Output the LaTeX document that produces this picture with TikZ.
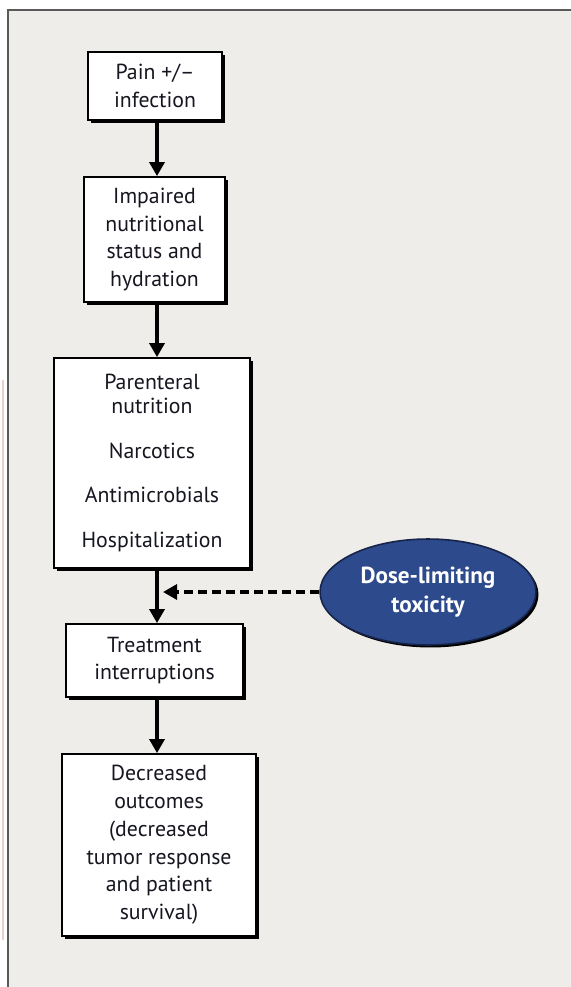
\documentclass[tikz,border=0pt]{standalone}
\usepackage{fontspec}
\setmainfont{PT Sans}
\usetikzlibrary{positioning,shapes.geometric,shadows,arrows.meta}
\definecolor{panel}{HTML}{EFEDE9}
\definecolor{frameline}{HTML}{5A5A5A}
\definecolor{edgepink}{HTML}{E9CFC8}
\definecolor{dosefill}{HTML}{2C4A8C}
\definecolor{doseline}{HTML}{17244A}
\definecolor{boxtext}{HTML}{15161F}

\begin{document}
\begin{tikzpicture}[x=0.02cm, y=-0.02cm,
    stepbox/.style={draw=black, fill=white, line width=1pt, align=center,
        inner sep=0pt, text=boxtext, font=\fontsize{12.4}{15.8}\selectfont,
        drop shadow={shadow xshift=0.06cm, shadow yshift=-0.06cm, fill=black, opacity=1}},
    flow/.style={line width=2.1pt, -{Triangle[width=8.5pt,length=8pt]}}]
    \useasboundingbox (0, 0) rectangle (571, 987);
    \fill[white] (0, 0) rectangle (571, 987);
    \fill[panel] (8, 10) rectangle (571, 987);
    \draw[frameline, line width=1pt] (8, 987) -- (8, 10) -- (571, 10);
    \draw[edgepink, line width=0.6pt] (3, 380) -- (3, 940);

    \node[stepbox, minimum width=2.68cm, minimum height=1.36cm] (pain) at (155, 86)
        {Pain +/--\\infection};
    \node[stepbox, minimum width=2.82cm, minimum height=2.5cm] (nutrition) at (154.5, 239.5)
        {Impaired\\nutritional\\status and\\hydration};
    \node[stepbox, minimum width=3.92cm, minimum height=4.2cm] (support) at (152, 463)
        {Parenteral\\[-2.2pt]nutrition\\[9.7pt]Narcotics\\[9.7pt]Antimicrobials\\[9.7pt]Hospitalization};
    \node[stepbox, minimum width=3.54cm, minimum height=1.46cm] (interrupt) at (154.5, 660.5)
        {Treatment\\interruptions};
    \node[stepbox, minimum width=3.88cm, minimum height=3.64cm] (outcome) at (159, 845)
        {Decreased\\outcomes\\(decreased\\tumor response\\and patient\\survival)};
    \node[ellipse, draw=doseline, fill=dosefill, line width=0.9pt, inner sep=0pt,
        minimum width=4.32cm, minimum height=2.12cm, text=white, align=center,
        font=\fontsize{13.2}{16.6}\selectfont\bfseries,
        drop shadow={shadow xshift=0.05cm, shadow yshift=-0.05cm, fill=black, opacity=1}]
        (dose) at (428, 592) {Dose-limiting\\toxicity};

    \coordinate (spine) at (157, 0);
    \coordinate (hit) at (163, 592);
    \draw[flow] (pain.south -| spine) -- (nutrition.north -| spine);
    \draw[flow] (nutrition.south -| spine) -- (support.north -| spine);
    \draw[flow] (support.south -| spine) -- (interrupt.north -| spine);
    \draw[flow] (interrupt.south -| spine) -- (outcome.north -| spine);
    \draw[flow, dash pattern=on 5pt off 3pt] (dose.west) -- (hit);
\end{tikzpicture}
\end{document}
